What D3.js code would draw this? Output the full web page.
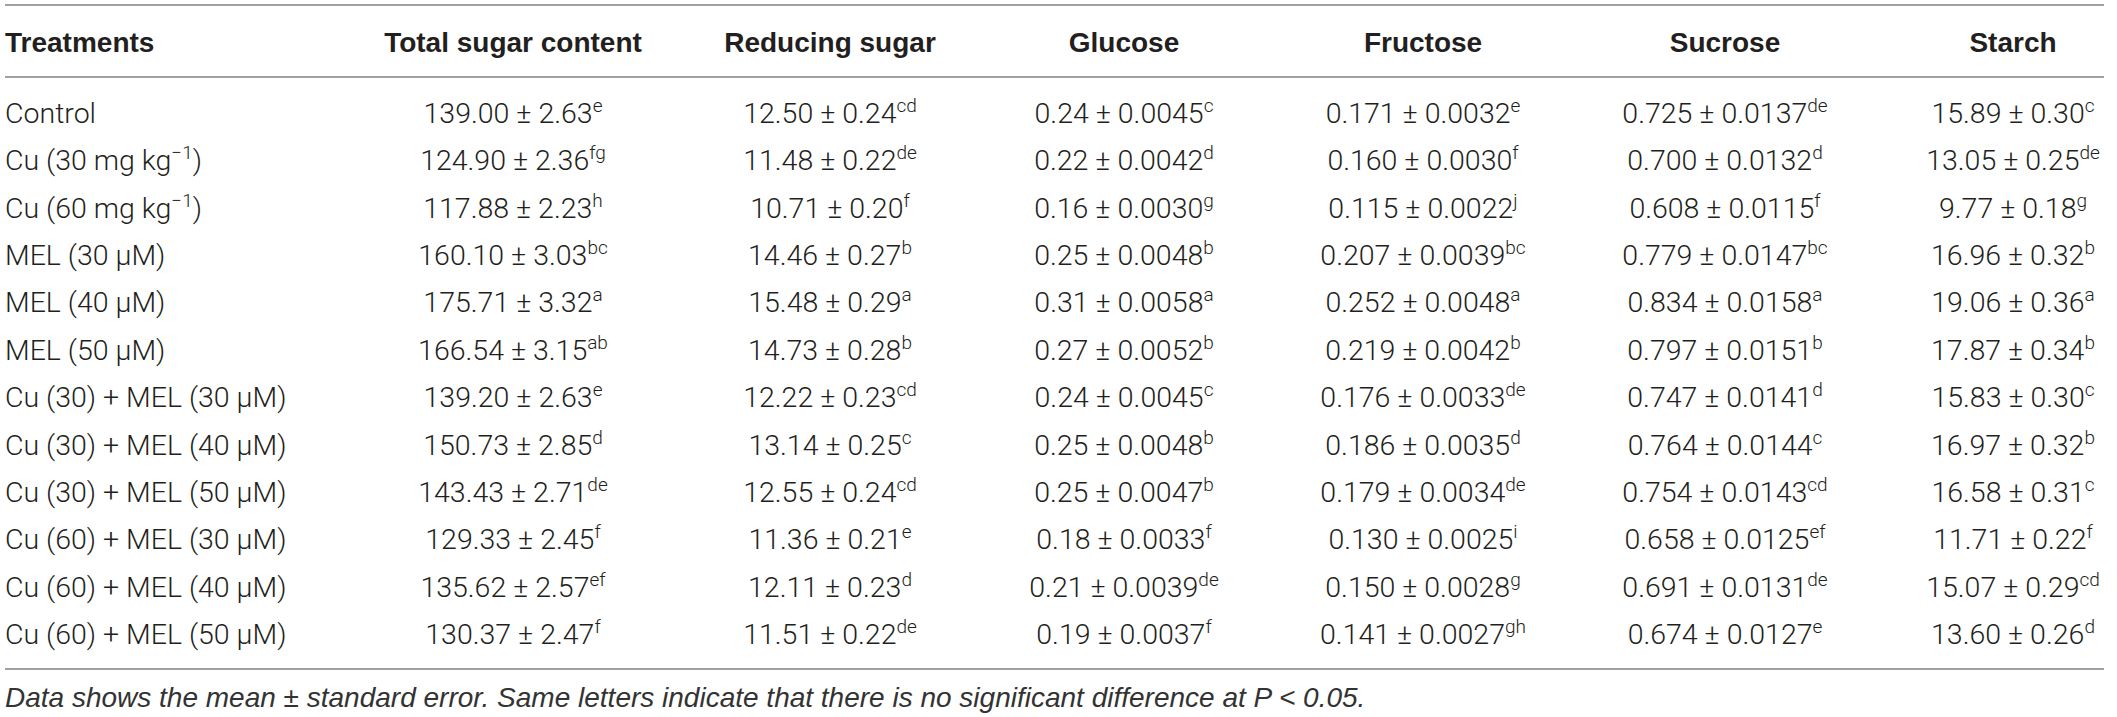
<!DOCTYPE html>
<html>
<head>
<meta charset="utf-8">
<script src="https://cdn.jsdelivr.net/npm/d3@7"></script>
<style>
  html, body { margin: 0; padding: 0; background: #fff; }
  svg { display: block; }
</style>
</head>
<body>
<svg id="chart" width="2117" height="717"></svg>
<script>
// ---------------- DATA ----------------
const treatments = [
  {base: "Control"},
  {base: "Cu (30 mg kg", sup: "\u22121", tail: ")"},
  {base: "Cu (60 mg kg", sup: "\u22121", tail: ")"},
  {base: "MEL (30 \u03bcM)"},
  {base: "MEL (40 \u03bcM)"},
  {base: "MEL (50 \u03bcM)"},
  {base: "Cu (30) + MEL (30 \u03bcM)"},
  {base: "Cu (30) + MEL (40 \u03bcM)"},
  {base: "Cu (30) + MEL (50 \u03bcM)"},
  {base: "Cu (60) + MEL (30 \u03bcM)"},
  {base: "Cu (60) + MEL (40 \u03bcM)"},
  {base: "Cu (60) + MEL (50 \u03bcM)"}
];
const headers = ["Treatments", "Total sugar content", "Reducing sugar", "Glucose", "Fructose", "Sucrose", "Starch"];

const totalSugarMean = [139.00, 124.90, 117.88, 160.10, 175.71, 166.54, 139.20, 150.73, 143.43, 129.33, 135.62, 130.37];
const totalSugarSE   = [2.63, 2.36, 2.23, 3.03, 3.32, 3.15, 2.63, 2.85, 2.71, 2.45, 2.57, 2.47];
const totalSugarLet  = ["e", "fg", "h", "bc", "a", "ab", "e", "d", "de", "f", "ef", "f"];

const reducingMean = [12.50, 11.48, 10.71, 14.46, 15.48, 14.73, 12.22, 13.14, 12.55, 11.36, 12.11, 11.51];
const reducingSE   = [0.24, 0.22, 0.20, 0.27, 0.29, 0.28, 0.23, 0.25, 0.24, 0.21, 0.23, 0.22];
const reducingLet  = ["cd", "de", "f", "b", "a", "b", "cd", "c", "cd", "e", "d", "de"];

const glucoseMean = [0.24, 0.22, 0.16, 0.25, 0.31, 0.27, 0.24, 0.25, 0.25, 0.18, 0.21, 0.19];
const glucoseSE   = [0.0045, 0.0042, 0.0030, 0.0048, 0.0058, 0.0052, 0.0045, 0.0048, 0.0047, 0.0033, 0.0039, 0.0037];
const glucoseLet  = ["c", "d", "g", "b", "a", "b", "c", "b", "b", "f", "de", "f"];

const fructoseMean = [0.171, 0.160, 0.115, 0.207, 0.252, 0.219, 0.176, 0.186, 0.179, 0.130, 0.150, 0.141];
const fructoseSE   = [0.0032, 0.0030, 0.0022, 0.0039, 0.0048, 0.0042, 0.0033, 0.0035, 0.0034, 0.0025, 0.0028, 0.0027];
const fructoseLet  = ["e", "f", "j", "bc", "a", "b", "de", "d", "de", "i", "g", "gh"];

const sucroseMean = [0.725, 0.700, 0.608, 0.779, 0.834, 0.797, 0.747, 0.764, 0.754, 0.658, 0.691, 0.674];
const sucroseSE   = [0.0137, 0.0132, 0.0115, 0.0147, 0.0158, 0.0151, 0.0141, 0.0144, 0.0143, 0.0125, 0.0131, 0.0127];
const sucroseLet  = ["de", "d", "f", "bc", "a", "b", "d", "c", "cd", "ef", "de", "e"];

const starchMean = [15.89, 13.05, 9.77, 16.96, 19.06, 17.87, 15.83, 16.97, 16.58, 11.71, 15.07, 13.60];
const starchSE   = [0.30, 0.25, 0.18, 0.32, 0.36, 0.34, 0.30, 0.32, 0.31, 0.22, 0.29, 0.26];
const starchLet  = ["c", "de", "g", "b", "a", "b", "c", "b", "c", "f", "cd", "d"];

const footnote = "Data shows the mean \u00b1 standard error. Same letters indicate that there is no significant difference at ";
const footnoteP = "P < 0.05.";

// ---------------- BUILD ----------------
const columns = [
  {name: headers[1], mean: totalSugarMean, se: totalSugarSE, let: totalSugarLet, fm: ".2f", fs: ".2f"},
  {name: headers[2], mean: reducingMean, se: reducingSE, let: reducingLet, fm: ".2f", fs: ".2f"},
  {name: headers[3], mean: glucoseMean, se: glucoseSE, let: glucoseLet, fm: ".2f", fs: ".4f"},
  {name: headers[4], mean: fructoseMean, se: fructoseSE, let: fructoseLet, fm: ".3f", fs: ".4f"},
  {name: headers[5], mean: sucroseMean, se: sucroseSE, let: sucroseLet, fm: ".3f", fs: ".4f"},
  {name: headers[6], mean: starchMean, se: starchSE, let: starchLet, fm: ".2f", fs: ".2f"}
];

const svg = d3.select("#chart");
const HFONT = "'Liberation Sans', Arial, Helvetica, sans-serif";
const BFONT = "Roboto, 'Liberation Sans', Arial, sans-serif";
const TXT = "#231f20";
const LINE = "#a0a0a0";

const x = d3.scaleOrdinal()
  .domain(columns.map(c => c.name))
  .range([513, 830, 1124, 1423, 1725, 2013]);
const y = d3.scalePoint()
  .domain(d3.range(treatments.length))
  .range([123, 644]);

const leftX = 5, rightX = 2104;

// rules
const rules = [5, 77, 669];
svg.selectAll("line.rule").data(rules).join("line")
  .attr("class", "rule")
  .attr("x1", leftX).attr("x2", rightX)
  .attr("y1", d => d).attr("y2", d => d)
  .attr("stroke", LINE).attr("stroke-width", 2);

// headers
const hdr = svg.append("g").attr("font-family", HFONT).attr("font-weight", "bold")
  .attr("font-size", 28).attr("fill", TXT);
hdr.append("text").attr("x", leftX).attr("y", 52).text(headers[0]);
hdr.selectAll("text.col").data(columns).join("text")
  .attr("class", "col")
  .attr("x", d => x(d.name)).attr("y", 52)
  .attr("text-anchor", "middle")
  .text(d => d.name);

// row labels
const body = svg.append("g").attr("font-family", BFONT).attr("font-weight", 300)
  .attr("font-size", 28.5).attr("fill", TXT);
const labels = body.selectAll("text.lab").data(treatments).join("text")
  .attr("class", "lab")
  .attr("x", leftX)
  .attr("y", (d, i) => y(i));
labels.append("tspan").text(d => d.base);
labels.filter(d => d.sup).append("tspan")
  .attr("font-size", 19).attr("dy", -11).text(d => d.sup);
labels.filter(d => d.tail).append("tspan")
  .attr("dy", 11).text(d => d.tail);

// cells
columns.forEach(col => {
  const fm = d3.format(col.fm), fs = d3.format(col.fs);
  const t = body.append("g").selectAll("text").data(col.mean).join("text")
    .attr("x", x(col.name))
    .attr("y", (d, i) => y(i))
    .attr("text-anchor", "middle");
  t.append("tspan").text((d, i) => fm(d) + " \u00b1 " + fs(col.se[i]));
  t.append("tspan").attr("font-size", 19).attr("dy", -11).text((d, i) => col.let[i]);
});

// footnote
const fn = svg.append("text")
  .attr("x", leftX).attr("y", 707)
  .attr("font-family", HFONT).attr("font-style", "italic")
  .attr("font-size", 28).attr("fill", "#333");
fn.append("tspan").text(footnote);
fn.append("tspan").text(footnoteP);
</script>
</body>
</html>
